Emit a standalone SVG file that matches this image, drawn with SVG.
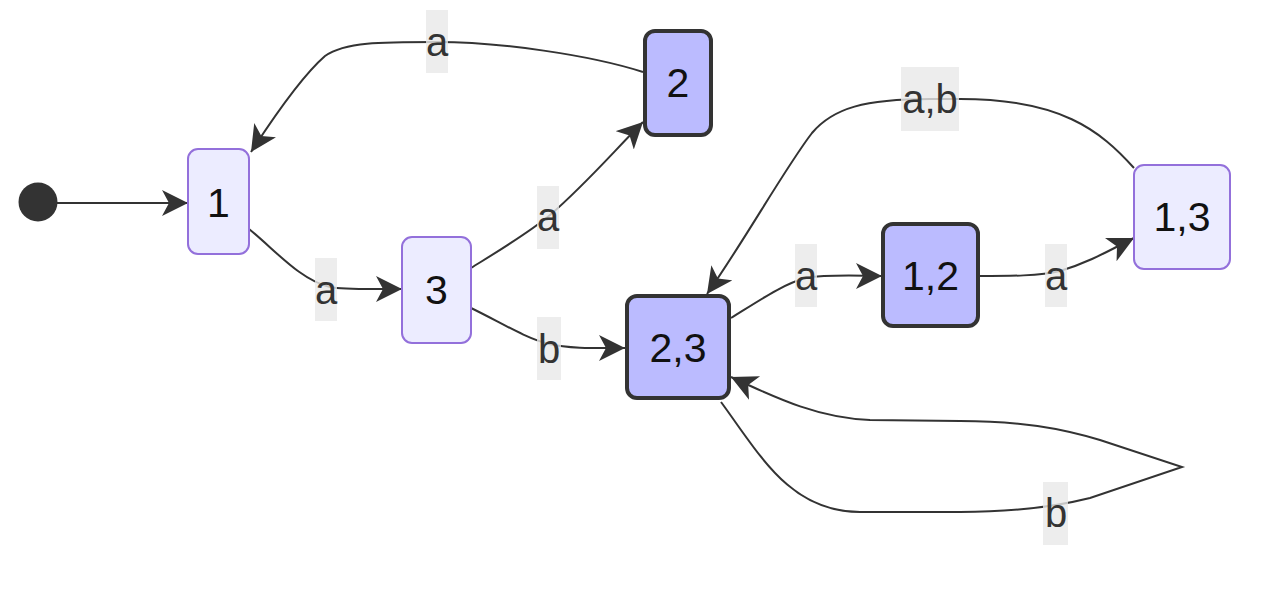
<svg xmlns="http://www.w3.org/2000/svg" width="1280" height="612" viewBox="0 0 1280 612">
<style>
.edge{fill:none;stroke:#333;stroke-width:2;marker-end:url(#arr)}
.n{fill:#ECECFF;stroke:#9370DB;stroke-width:2}
.f{fill:#BBBBFF;stroke:#333;stroke-width:4}
.t{font-family:"Liberation Sans",Arial,sans-serif;font-size:41px;fill:#111;text-anchor:middle}
.lb{fill:rgba(232,232,232,0.8)}
.lt{font-family:"Liberation Sans",Arial,sans-serif;font-size:40px;fill:#333;text-anchor:middle}
</style>
<defs>
<marker id="arr" markerUnits="userSpaceOnUse" markerWidth="28" markerHeight="28" refX="26" refY="13" orient="auto">
<path d="M0,0 L26,13 L0,26 L7,13 z" fill="#333"/>
</marker>
</defs>
<g id="edges">
<path class="edge" d="M57,203 L188,203"/>
<path class="edge" d="M643,72 C590,55 500,42 437,42 C380,42 345,42 325,56 C302,76 275,115 251,152"/>
<path class="edge" d="M249,229 C275,250 300,280 330,287 C345,290 370,289 402,289"/>
<path class="edge" d="M471,268 C500,250 530,232 550,215 C585,185 615,150 643,122"/>
<path class="edge" d="M471,308 C500,322 525,338 549,344 C570,349 600,348 625,348"/>
<path class="edge" d="M731,318 C760,300 785,283 806,278 C830,274 860,276 882,276"/>
<path class="edge" d="M979,276 C1010,276 1040,276 1060,271 C1090,262 1110,250 1134,238"/>
<path class="edge" d="M1134,168 C1100,130 1060,99 960,99 L930,99 C865,99 833,108 812,133 C785,168 745,240 707,294"/>
<path class="edge" d="M721,402 C760,455 790,512 860,512 L960,512 C1010,512 1050,508 1090,498 L1182,467 L1100,440 C1060,428 1020,421 960,421 L870,420 C820,418 780,400 731,377"/>
</g>
<g id="labels">
<rect class="lb" x="426" y="10" width="22" height="63"/><text class="lt" x="437" y="42" dy="0.35em">a</text>
<rect class="lb" x="315" y="258" width="22" height="63"/><text class="lt" x="326" y="290" dy="0.35em">a</text>
<rect class="lb" x="537" y="186" width="22" height="63"/><text class="lt" x="548" y="217" dy="0.35em">a</text>
<rect class="lb" x="537" y="317" width="24" height="63"/><text class="lt" x="549" y="349" dy="0.35em">b</text>
<rect class="lb" x="795" y="244" width="22" height="63"/><text class="lt" x="806" y="276" dy="0.35em">a</text>
<rect class="lb" x="1045" y="244" width="22" height="63"/><text class="lt" x="1056" y="276" dy="0.35em">a</text>
<rect class="lb" x="901" y="67" width="58" height="64"/><text class="lt" x="930" y="99" dy="0.35em">a,b</text>
<rect class="lb" x="1043" y="482" width="25" height="63"/><text class="lt" x="1056" y="513" dy="0.35em">b</text>
</g>
<g id="start"><circle cx="38" cy="202" r="19.5" fill="#333"/></g>
<g id="node-1"><rect class="n" x="188" y="149" width="61" height="105" rx="10"/><text class="t" x="218.5" y="203" dy="0.35em">1</text></g>
<g id="node-3"><rect class="n" x="402" y="237" width="69" height="106" rx="10"/><text class="t" x="436.5" y="290" dy="0.35em">3</text></g>
<g id="node-2"><rect class="f" x="645" y="31" width="66" height="104" rx="10"/><text class="t" x="678" y="83" dy="0.35em">2</text></g>
<g id="node-23"><rect class="f" x="627" y="296" width="102" height="102" rx="10"/><text class="t" x="678" y="348" dy="0.35em">2,3</text></g>
<g id="node-12"><rect class="f" x="883" y="224" width="95" height="102" rx="10"/><text class="t" x="930.5" y="276" dy="0.35em">1,2</text></g>
<g id="node-13"><rect class="n" x="1134" y="165" width="96" height="104" rx="10"/><text class="t" x="1182" y="217" dy="0.35em">1,3</text></g>
</svg>
